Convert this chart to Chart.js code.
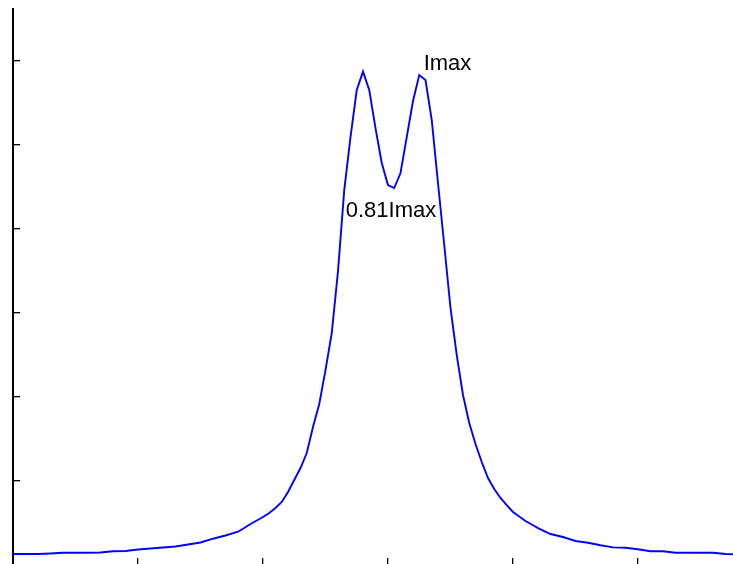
<!DOCTYPE html>
<html lang="en">

<head>
    <meta charset="UTF-8">
    <title>Double peak profile</title>
    <script src="https://cdn.jsdelivr.net/npm/chart.js"></script>
    <style>
        html, body { margin: 0; padding: 0; overflow: hidden; background: #fff; }
        canvas { display: block; }
    </style>
</head>

<body>
    <canvas id="myChart" width="780" height="580"></canvas>

    <script>
        // profile samples
        var xValues = [
            0, 0.1, 0.2, 0.3, 0.4, 0.5, 0.6, 0.7, 0.8, 0.9,
            1.0, 1.1, 1.2, 1.3, 1.4, 1.5, 1.6, 1.7, 1.8,
            1.85, 1.9, 1.95, 2.0, 2.05, 2.1, 2.15, 2.2, 2.25, 2.3,
            2.35, 2.4, 2.45, 2.5, 2.55, 2.6, 2.65, 2.7, 2.75, 2.8,
            2.85, 2.9, 2.95, 3.0, 3.05, 3.1, 3.15, 3.2, 3.25, 3.3,
            3.35, 3.4, 3.45, 3.5, 3.55, 3.6, 3.65, 3.7, 3.75, 3.8,
            3.85, 3.9, 3.95, 4.0, 4.05, 4.1, 4.15, 4.2,
            4.3, 4.4, 4.5, 4.6, 4.7, 4.8, 4.9, 5.0, 5.1, 5.2,
            5.3, 5.4, 5.5, 5.6, 5.7, 5.8
        ];
        var intensity = [
            0.131, 0.131, 0.131, 0.137, 0.146, 0.146, 0.146, 0.149, 0.163, 0.167,
            0.185, 0.196, 0.208, 0.220, 0.244, 0.268, 0.313, 0.351, 0.396,
            0.44, 0.488, 0.530, 0.571, 0.619, 0.679, 0.75, 0.869, 1.012, 1.155,
            1.333, 1.643, 1.917, 2.321, 2.762, 3.5, 4.464, 5.095, 5.655, 5.875,
            5.655, 5.202, 4.786, 4.524, 4.488, 4.667, 5.095, 5.524, 5.833, 5.774,
            5.298, 4.548, 3.81, 3.06, 2.5, 2.024, 1.69, 1.44, 1.226, 1.036,
            0.905, 0.798, 0.714, 0.631, 0.577, 0.524, 0.482, 0.44,
            0.369, 0.333, 0.286, 0.265, 0.235, 0.21, 0.205, 0.187, 0.164, 0.163,
            0.146, 0.146, 0.146, 0.146, 0.131, 0.127
        ];

        // text annotations: [label, x, baseline y]
        var labels = ['Imax', '0.81Imax'];
        var labelX = [3.285, 2.662];
        var labelY = [5.899, 4.146];

        var points = xValues.map(function (x, i) {
            return { x: x, y: intensity[i] };
        });

        // only whole-number ticks get a tick mark
        function tickMarkColor(c) {
            return Number.isInteger(c.tick.value) ? '#000' : 'rgba(0,0,0,0)';
        }

        var textPlugin = {
            id: 'peakText',
            afterDatasetsDraw: function (chart) {
                var ctx = chart.ctx;
                var xs = chart.scales.x, ys = chart.scales.y;
                ctx.save();
                ctx.fillStyle = '#000';
                ctx.font = '22px "Liberation Sans", Arial, sans-serif';
                ctx.textBaseline = 'alphabetic';
                ctx.textAlign = 'left';
                labels.forEach(function (t, i) {
                    ctx.fillText(t, xs.getPixelForValue(labelX[i]), ys.getPixelForValue(labelY[i]));
                });
                ctx.restore();
            }
        };

        var ctx = document.getElementById('myChart').getContext('2d');
        var myChart = new Chart(ctx, {
            type: 'line',
            data: {
                datasets: [{
                    data: points,
                    borderColor: '#0000ff',
                    borderWidth: 1.9,
                    pointRadius: 0,
                    tension: 0,
                    fill: false
                }]
            },
            options: {
                responsive: false,
                animation: false,
                events: [],
                layout: { padding: { left: 13, top: 9, right: 17, bottom: 15 } },
                plugins: {
                    legend: { display: false },
                    tooltip: { enabled: false }
                },
                scales: {
                    x: {
                        type: 'linear',
                        min: 0,
                        max: 6,
                        afterFit: function (s) { s.height = 0; },
                        ticks: { stepSize: 1, display: false },
                        grid: {
                            drawOnChartArea: false,
                            drawTicks: true,
                            tickLength: -7,
                            tickColor: tickMarkColor,
                            lineWidth: 1.3
                        },
                        border: { display: true, color: '#000', width: 2 }
                    },
                    y: {
                        type: 'linear',
                        min: 0,
                        max: 6.62,
                        afterFit: function (s) { s.width = 0; },
                        ticks: { stepSize: 1, display: false },
                        grid: {
                            drawOnChartArea: false,
                            drawTicks: true,
                            tickLength: -7,
                            tickColor: tickMarkColor,
                            lineWidth: 1.3
                        },
                        border: { display: true, color: '#000', width: 2 }
                    }
                }
            },
            plugins: [textPlugin]
        });
    </script>
</body>

</html>
